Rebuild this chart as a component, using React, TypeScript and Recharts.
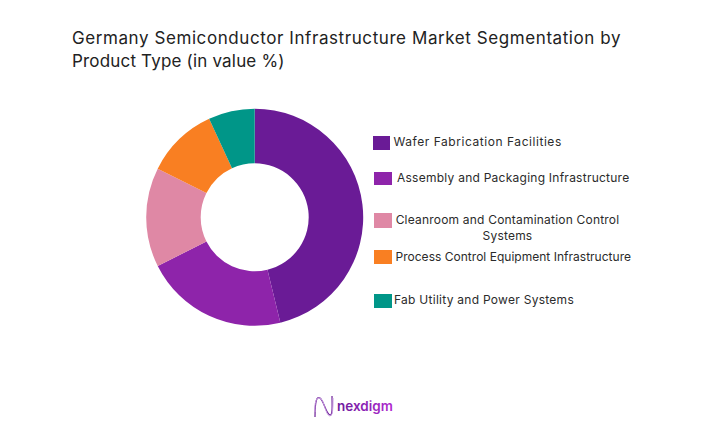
import { Cell, Legend, Pie, PieChart } from "recharts";

const segments = [
  "Wafer Fabrication Facilities",
  "Assembly and Packaging Infrastructure",
  "Cleanroom and Contamination Control Systems",
  "Process Control Equipment Infrastructure",
  "Fab Utility and Power Systems",
];
const shares = [46.2, 21.4, 14.8, 10.7, 6.9];
const colors = ["#6a1b96", "#8e24aa", "#df88a5", "#f97f22", "#009688"];

const data = segments.map((name, i) => ({ name, value: shares[i] }));

const FONT = "Inter, 'Open Sans', sans-serif";

// legend swatches and labels sit unevenly in the original, so they are placed by hand
const swatchBoxes = [
  { left: 373, top: 136, width: 17, height: 14 },
  { left: 374, top: 172, width: 18, height: 13 },
  { left: 373.5, top: 213, width: 18.5, height: 15 },
  { left: 373.5, top: 250, width: 18.5, height: 14 },
  { left: 373.5, top: 294, width: 18.5, height: 14 },
];
const labelBoxes = [
  { left: 393.5, top: 134, width: 200, spacing: 0.55, align: "left", wrap: "nowrap" },
  { left: 397, top: 170, width: 260, spacing: 0.25, align: "left", wrap: "nowrap" },
  { left: 392.5, top: 212, width: 230, spacing: 0.2, align: "center", wrap: "normal" },
  { left: 395.5, top: 249, width: 260, spacing: 0.02, align: "left", wrap: "nowrap" },
  { left: 394, top: 292, width: 200, spacing: 0.27, align: "left", wrap: "nowrap" },
];

function SegmentLegend() {
  return (
    <div style={{ position: "absolute", left: 0, top: 0, width: 708, height: 431 }}>
      {segments.map((name, i) => (
        <div key={name}>
          <div style={{ position: "absolute", background: colors[i], ...swatchBoxes[i] }} />
          <div
            style={{
              position: "absolute",
              left: labelBoxes[i].left,
              top: labelBoxes[i].top,
              width: labelBoxes[i].width,
              fontFamily: FONT,
              fontSize: 12,
              lineHeight: "16px",
              letterSpacing: labelBoxes[i].spacing,
              color: "#2b2b2b",
              textAlign: labelBoxes[i].align as "left" | "center",
              whiteSpace: labelBoxes[i].wrap as "nowrap" | "normal",
            }}
          >
            {name}
          </div>
        </div>
      ))}
    </div>
  );
}

function Logo() {
  return (
    <svg
      width={100}
      height={30}
      viewBox="0 0 100 30"
      style={{ position: "absolute", left: 310, top: 392 }}
    >
      <defs>
        <linearGradient id="logoGrad" x1="0" x2="1" y1="0" y2="0">
          <stop offset="0%" stopColor="#6a1b9a" />
          <stop offset="100%" stopColor="#b02ad0" />
        </linearGradient>
      </defs>
      <path d="M5 25 C5 8 7 4 10 6 C14 9 16 22 20 23 C23 24 22 10 22 4" fill="none" stroke="#6a1b96" strokeWidth={1.2} />
      <path d="M5 20 C4 4 10 3 13 10 C16 18 18 28 22 22 C23 18 23 10 23 6" fill="none" stroke="#c79be0" strokeWidth={1} />
      <text x={27} y={19} fontFamily={FONT} fontSize={13.5} fontWeight={600} fill="url(#logoGrad)">
        nexdigm
      </text>
    </svg>
  );
}

export default function App() {
  return (
    <div style={{ position: "absolute", left: 0, top: 0, width: 708, height: 431, background: "#fff", overflow: "hidden" }}>
      <div
        style={{
          position: "absolute",
          left: 72,
          top: 27,
          width: 620,
          fontFamily: FONT,
          fontSize: 17,
          lineHeight: "23px",
          letterSpacing: 0.58,
          color: "#222",
        }}
      >
        Germany Semiconductor Infrastructure Market Segmentation by
        <br />
        <span style={{ letterSpacing: 0.18 }}>Product Type (in value %)</span>
      </div>
      <PieChart width={708} height={431} margin={{ top: 0, right: 0, bottom: 0, left: 0 }}>
        <Pie
          data={data}
          dataKey="value"
          nameKey="name"
          cx={254.7}
          cy={217.3}
          innerRadius={54}
          outerRadius={108.5}
          startAngle={90}
          endAngle={-270}
          stroke="none"
          isAnimationActive={false}
        >
          {data.map((d, i) => (
            <Cell key={d.name} fill={colors[i]} />
          ))}
        </Pie>
        <Legend content={() => <SegmentLegend />} wrapperStyle={{ left: 0, top: 0, width: 708, height: 431 }} />
      </PieChart>
      <Logo />
    </div>
  );
}
